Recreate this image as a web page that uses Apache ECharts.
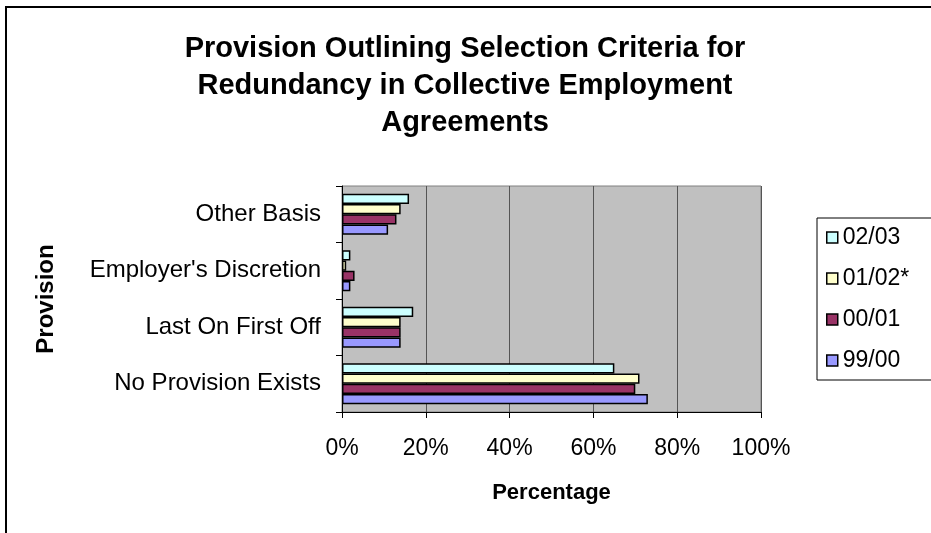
<!DOCTYPE html>
<html>
<head>
<meta charset="utf-8">
<script src="https://cdn.jsdelivr.net/npm/echarts@6/dist/echarts.min.js"></script>
<style>html,body{margin:0;padding:0;background:#fff;}#c{width:931px;height:533px;}</style>
</head>
<body>
<div id="c"></div>
<script>
var categories = ['No Provision Exists', 'Last On First Off', "Employer's Discretion", 'Other Basis'];
var s0203 = [65, 17, 2, 16];
var s0102 = [71, 14, 1, 14];
var s0001 = [70, 14, 3, 13];
var s9900 = [73, 14, 2, 11];
var seriesNames = ['02/03', '01/02*', '00/01', '99/00'];
var seriesColors = ['#CCFFFF', '#FFFFCC', '#993366', '#9999FF'];
var xTicks = [0, 20, 40, 60, 80, 100];

var FONT = '"Liberation Sans", Arial, sans-serif';
var values = [s0203, s0102, s0001, s9900];
var chart = echarts.init(document.getElementById('c'), null, {renderer: 'canvas'});
var series = seriesNames.map(function (n, i) {
  return {
    name: n, type: 'bar', data: values[i],
    barGap: '0%', barCategoryGap: '27%',
    itemStyle: {color: seriesColors[i], borderColor: '#000', borderWidth: 1.5},
    emphasis: {disabled: true}
  };
});
chart.setOption({
  animation: false,
  textStyle: {fontFamily: FONT},
  title: {
    text: 'Provision Outlining Selection Criteria for\nRedundancy in Collective Employment\nAgreements',
    left: 465, top: 30, padding: 0,
    textAlign: 'center',
    textStyle: {fontSize: 29, fontWeight: 'bold', color: '#000', lineHeight: 37, fontFamily: FONT}
  },
  legend: {
    orient: 'vertical', left: 817, top: 218,
    data: seriesNames,
    icon: 'rect', itemWidth: 11, itemHeight: 11, itemGap: 18,
    borderColor: '#000', borderWidth: 1,
    padding: [8, 40, 8, 9],
    textStyle: {fontSize: 23, color: '#000', fontFamily: FONT, lineHeight: 23},
    itemStyle: {borderColor: '#000', borderWidth: 1.5},
    selectedMode: false
  },
  grid: {
    left: 342, right: 170, top: 186, bottom: 121,
    show: true, backgroundColor: '#C0C0C0', borderColor: '#808080', borderWidth: 1
  },
  xAxis: {
    type: 'value', min: 0, max: 100, interval: 20,
    axisLine: {show: true, lineStyle: {color: '#000', width: 1}},
    axisTick: {show: true, length: 6, lineStyle: {color: '#000'}},
    axisLabel: {formatter: '{value}%', fontSize: 23, color: '#000', margin: 25, fontFamily: FONT},
    splitLine: {show: true, lineStyle: {color: '#555', width: 1}},
    name: 'Percentage', nameLocation: 'middle', nameGap: 70,
    nameTextStyle: {fontSize: 22, fontWeight: 'bold', color: '#000', fontFamily: FONT}
  },
  yAxis: {
    type: 'category', data: categories,
    axisLine: {show: true, lineStyle: {color: '#000', width: 1}},
    axisTick: {show: true, length: 6, lineStyle: {color: '#000'}},
    axisLabel: {fontSize: 24, color: '#000', margin: 21, fontFamily: FONT},
    name: 'Provision', nameLocation: 'middle', nameGap: 284, nameRotate: 90,
    nameTextStyle: {fontSize: 24, fontWeight: 'bold', color: '#000', fontFamily: FONT}
  },
  series: series,
  graphic: [{
    type: 'rect', silent: true,
    shape: {x: 6, y: 7, width: 1000, height: 1000},
    style: {fill: 'none', stroke: '#000', lineWidth: 2}
  }]
});
</script>
</body>
</html>
